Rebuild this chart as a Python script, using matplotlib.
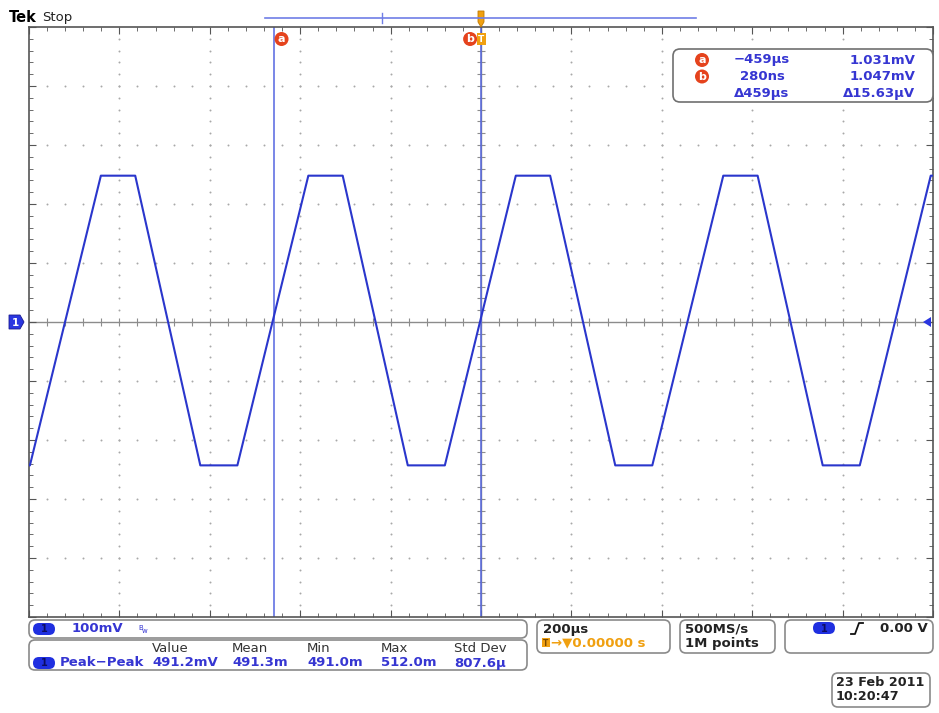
import numpy as np
import matplotlib
matplotlib.use("Agg")
import matplotlib.pyplot as plt
from matplotlib.patches import FancyBboxPatch, Polygon, Rectangle

# waveform vertices (time in us, level in mV)
time_us = [-1000, -998, -841, -765, -621, -539, -382, -306, -162, -80,
           77, 153, 297, 379, 536, 612, 756, 838, 995, 1000]
level_mv = [-243, -243, 248, 248, -243, -243, 248, 248, -243, -243,
            248, 248, -243, -243, 248, 248, -243, -243, 248, 248]

cursor_a_us = -459.0
cursor_b_us = 0.28

readout_time = ["\u2212459\u00b5s", "280ns", "\u0394459\u00b5s"]
readout_volt = ["1.031mV", "1.047mV", "\u039415.63\u00b5V"]

meas_head = ["Value", "Mean", "Min", "Max", "Std Dev"]
meas_vals = ["491.2mV", "491.3m", "491.0m", "512.0m", "807.6\u00b5"]

BLUE = "#3636d2"
WAVE = "#2a36cc"
CURS = "#5566e0"
RED = "#e5431d"
ORANGE = "#f0a010"
BORDER = "#8a8a8a"

W, H = 939, 713
fig = plt.figure(figsize=(W / 100, H / 100), dpi=100)
fig.patch.set_facecolor("white")

ax = fig.add_axes([29 / W, 1 - 617 / H, 904 / W, 590 / H])
ax.set_xlim(-1000, 1000)
ax.set_ylim(-500, 500)
ax.set_xticks(np.arange(-1000, 1001, 200))
ax.set_xticks(np.arange(-1000, 1001, 40), minor=True)
ax.set_yticks(np.arange(-500, 501, 100))
ax.set_yticks(np.arange(-500, 501, 20), minor=True)
ax.tick_params(which="both", direction="in", top=True, right=True,
               labelbottom=False, labelleft=False, color="#555555")
ax.tick_params(which="major", length=5, width=0.8)
ax.tick_params(which="minor", length=3, width=0.6)
for s in ax.spines.values():
    s.set_color("#555555")
    s.set_linewidth(1.2)

# dotted graticule
for gx in np.arange(-800, 801, 200):
    if gx == 0:
        continue
    yy = np.arange(-480, 481, 20)
    ax.scatter(np.full(len(yy), gx), yy, s=2, color="#a8a8a8", marker="o", linewidths=0, zorder=1)
for gy in np.arange(-400, 401, 100):
    if gy == 0:
        continue
    xx = np.arange(-960, 961, 40)
    ax.scatter(xx, np.full(len(xx), gy), s=2, color="#a8a8a8", marker="o", linewidths=0, zorder=1)

# center axes with ticks
ax.axhline(0, color="#8c8c8c", lw=1.0, zorder=1)
ax.axvline(0, color="#8c8c8c", lw=1.0, zorder=1)
tx = np.arange(-960, 961, 40)
ax.plot(tx, np.zeros(len(tx)), ls="none", marker="|", ms=6, mew=0.8, color="#8c8c8c", zorder=1)
ty = np.arange(-480, 481, 20)
ax.plot(np.zeros(len(ty)), ty, ls="none", marker="_", ms=6, mew=0.8, color="#8c8c8c", zorder=1)

# cursors
ax.axvline(cursor_a_us, color=CURS, lw=1.1, zorder=2)
ax.axvline(cursor_b_us, color=CURS, lw=1.1, zorder=2)

# waveform
ax.plot(time_us, level_mv, color=WAVE, lw=1.5, zorder=3)

# cursor tags
ax.annotate("a", xy=(cursor_a_us, 1), xycoords=("data", "axes fraction"),
            xytext=(8, -12), textcoords="offset pixels", ha="center", va="center",
            color="white", fontsize=8, fontweight="bold",
            bbox=dict(boxstyle="circle,pad=0.18", fc=RED, ec="none"), zorder=6)
ax.annotate("b", xy=(cursor_b_us, 1), xycoords=("data", "axes fraction"),
            xytext=(-11, -12), textcoords="offset pixels", ha="center", va="center",
            color="white", fontsize=8, fontweight="bold",
            bbox=dict(boxstyle="circle,pad=0.18", fc=RED, ec="none"), zorder=6)
ax.annotate("T", xy=(cursor_b_us, 1), xycoords=("data", "axes fraction"),
            xytext=(0, -12), textcoords="offset pixels", ha="center", va="center",
            color="white", fontsize=6.5, fontweight="bold",
            bbox=dict(boxstyle="square,pad=0.15", fc=ORANGE, ec="none"), zorder=6)

# overlay in pixel coordinates for the scope furniture
ov = fig.add_axes([0, 0, 1, 1], zorder=5)
ov.set_xlim(0, W)
ov.set_ylim(H, 0)
ov.axis("off")
ov.patch.set_alpha(0)

ov.text(9, 18, "Tek", fontsize=10.5, fontweight="bold", color="black", va="center")
ov.text(42, 18, "Stop", fontsize=9.5, color="#222222", va="center")

# record bar
ov.plot([265, 696], [18, 18], color="#6f7ee6", lw=1.2)
ov.plot([382, 382], [13, 23], color="#6f7ee6", lw=1.0)
ov.add_patch(Polygon([[478, 11], [484, 11], [484, 22], [481, 27], [478, 22]],
                     closed=True, fc=ORANGE, ec="#c07800", lw=0.6))

# cursor readout
ov.add_patch(FancyBboxPatch((673, 49), 260, 53, boxstyle="round,pad=0,rounding_size=7",
                            fc="white", ec="#707070", lw=1.2))
for i, (tt, vv) in enumerate(zip(readout_time, readout_volt)):
    yy = 60 + i * 16.5
    if i < 2:
        ov.text(702, yy, "ab"[i], ha="center", va="center", color="white", fontsize=8,
                fontweight="bold", bbox=dict(boxstyle="circle,pad=0.18", fc=RED, ec="none"))
    ov.text(762, yy, tt, ha="center", va="center", color=BLUE, fontsize=9.5, fontweight="bold")
    ov.text(915, yy, vv, ha="right", va="center", color=BLUE, fontsize=9.5, fontweight="bold")

# channel markers
ov.add_patch(Polygon([[9, 315], [20, 315], [24, 322], [20, 329], [9, 329]], closed=True,
                     fc="#2a36e0", ec="#1a1a90", lw=0.6))
ov.text(15, 322.5, "1", ha="center", va="center", color="white", fontsize=7.5, fontweight="bold")
ov.add_patch(Polygon([[923, 322], [931, 317], [931, 327]], closed=True, fc="#2a36e0", ec="none"))


def pill(x, y):
    ov.add_patch(FancyBboxPatch((x, y - 6), 22, 12, boxstyle="round,pad=0,rounding_size=6",
                                fc="#1f2fe0", ec="none"))
    ov.text(x + 11, y + 0.5, "1", ha="center", va="center", color="#0c0c60",
            fontsize=7, fontweight="bold")


def box(x0, y0, x1, y1):
    ov.add_patch(FancyBboxPatch((x0, y0), x1 - x0, y1 - y0,
                                boxstyle="round,pad=0,rounding_size=6",
                                fc="white", ec=BORDER, lw=1.2))


# bottom status boxes
box(29, 620, 527, 638)
pill(33, 629)
ov.text(72, 629, "100mV", va="center", color=BLUE, fontsize=9.5, fontweight="bold")
ov.text(138, 628, "B", va="center", color=BLUE, fontsize=5)
ov.text(142, 631, "w", va="center", color=BLUE, fontsize=5)

box(29, 640, 527, 670)
pill(33, 663)
ov.text(60, 663, "Peak\u2212Peak", va="center", color=BLUE, fontsize=9.5, fontweight="bold")
head_x = [152, 232, 307, 381, 454]
for hx, hd, vl in zip(head_x, meas_head, meas_vals):
    ov.text(hx, 648, hd, va="center", color="#333333", fontsize=9.5)
    ov.text(hx, 663, vl, va="center", color=BLUE, fontsize=9.5, fontweight="bold")

box(537, 620, 670, 653)
ov.text(543, 629, "200\u00b5s", va="center", color="#222222", fontsize=9.5, fontweight="bold")
ov.add_patch(Rectangle((542, 638), 8, 9, fc=ORANGE, ec="none"))
ov.text(546, 643, "T", ha="center", va="center", color="#7a4a00", fontsize=5.5, fontweight="bold")
ov.text(551, 643, "\u2192\u25bc0.00000 s", va="center", color=ORANGE, fontsize=9.5, fontweight="bold")

box(680, 620, 775, 653)
ov.text(685, 629, "500MS/s", va="center", color="#222222", fontsize=9.5, fontweight="bold")
ov.text(685, 643, "1M points", va="center", color="#222222", fontsize=9.5, fontweight="bold")

box(785, 620, 933, 653)
pill(813, 628)
ov.plot([851, 855, 859, 863], [634, 634, 623, 623], color="#111111", lw=1.3)
ov.text(928, 629, "0.00 V", ha="right", va="center", color="#222222", fontsize=9.5, fontweight="bold")

box(832, 673, 930, 707)
ov.text(836, 682, "23 Feb 2011", va="center", color="#222222", fontsize=9.2, fontweight="bold")
ov.text(836, 697, "10:20:47", va="center", color="#222222", fontsize=9.2, fontweight="bold")

fig.savefig("out.png", dpi=100, facecolor="white")
